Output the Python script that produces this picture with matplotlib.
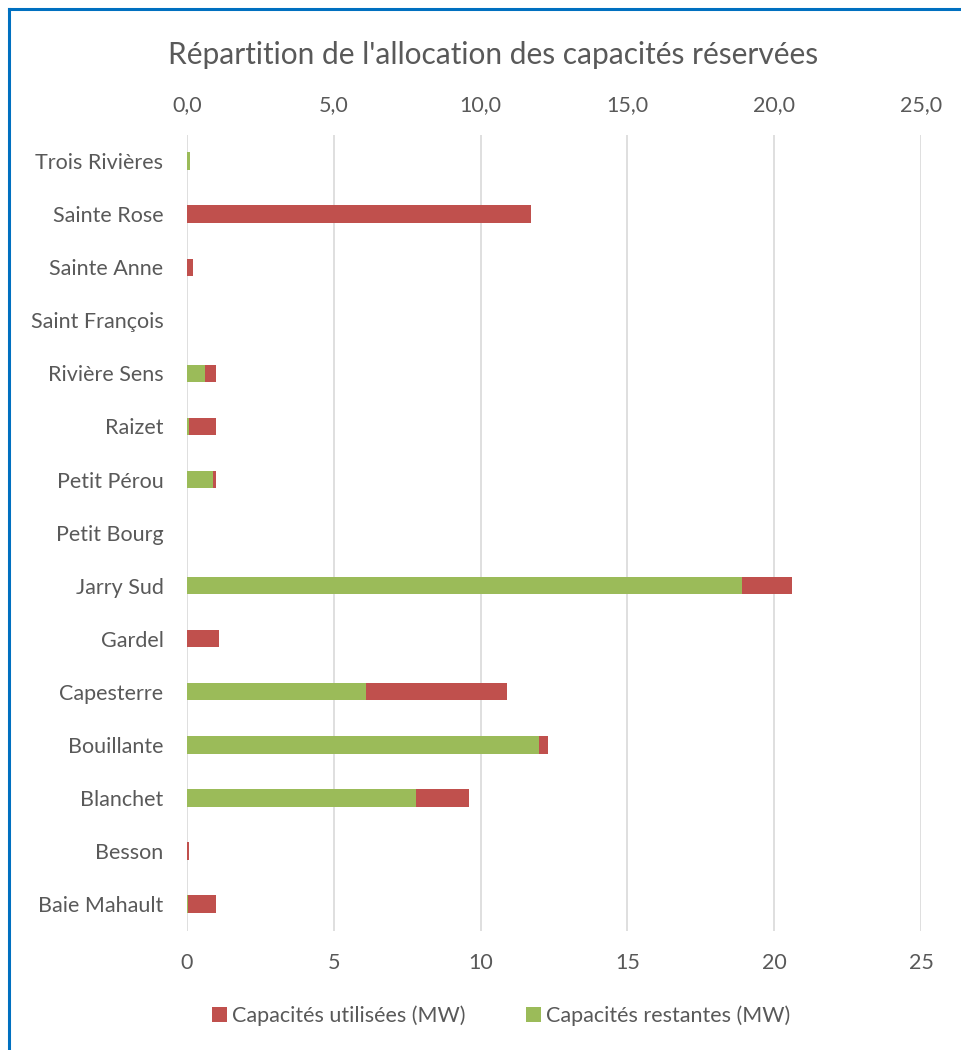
import matplotlib.pyplot as plt
from matplotlib.lines import Line2D
from matplotlib.patches import Patch
from matplotlib.ticker import FuncFormatter

# data, top to bottom as in the chart
postes = ["Trois Rivières", "Sainte Rose", "Sainte Anne", "Saint François",
          "Rivière Sens", "Raizet", "Petit Pérou", "Petit Bourg", "Jarry Sud",
          "Gardel", "Capesterre", "Bouillante", "Blanchet", "Besson",
          "Baie Mahault"]
restantes = [0.09, 0.0, 0.0, 0.0, 0.6, 0.07, 0.9, 0.0, 18.9,
             0.0, 6.1, 12.0, 7.8, 0.0, 0.05]
utilisees = [0.0, 11.7, 0.2, 0.0, 0.4, 0.93, 0.1, 0.0, 1.7,
             1.1, 4.8, 0.3, 1.8, 0.08, 0.95]
ticks = [0, 5, 10, 15, 20, 25]

RED = "#C0504D"
GREEN = "#9BBB59"
TXT = "#595959"
GRID = "#D9D9D9"
FS = 15.5

plt.rcParams['font.family'] = ['Lato', 'DejaVu Sans']

fig = plt.figure(figsize=(9.62, 10.5), dpi=100)
ax = fig.add_axes([0.1944, 0.1138, 0.763, 0.758])

pos = list(range(len(postes)))
ax.barh(pos, restantes, height=0.33, color=GREEN, zorder=3)
ax.barh(pos, utilisees, left=restantes, height=0.33, color=RED, zorder=3)

ax.set_ylim(len(postes) - 0.5, -0.5)
ax.set_xlim(0, 25)
ax.set_yticks(pos)
ax.set_yticklabels(postes, fontsize=FS, color=TXT)
ax.set_xticks(ticks)
ax.tick_params(axis='x', labelsize=FS, colors=TXT, length=0, pad=16)
ax.tick_params(axis='y', length=0, pad=17)
ax.grid(axis='x', color=GRID, linewidth=1.2, zorder=0)
for s in ax.spines.values():
    s.set_visible(False)

top = ax.twiny()
top.set_xlim(ax.get_xlim())
top.set_xticks(ticks)
top.xaxis.set_major_formatter(FuncFormatter(lambda v, p: f"{v:.1f}".replace(".", ",")))
top.tick_params(axis='x', labelsize=FS, colors=TXT, length=0, pad=14)
for s in top.spines.values():
    s.set_visible(False)

fig.text(0.513, 0.948, "Répartition de l'allocation des capacités réservées",
         ha='center', va='center', fontsize=21.5, color=TXT)

handles = [Patch(facecolor=RED, label="Capacités utilisées (MW)"),
           Patch(facecolor=GREEN, label="Capacités restantes (MW)")]
fig.legend(handles=handles, loc='center', bbox_to_anchor=(0.521, 0.033),
           ncol=2, frameon=False, fontsize=FS, labelcolor=TXT,
           handlelength=0.7, handleheight=0.7, handletextpad=0.25, columnspacing=2.8)

# blue frame of the screenshot (left and top edges)
fig.add_artist(Line2D([9 / 962, 9 / 962], [0, 1 - 9 / 1050], color="#0070C0", lw=2.2))
fig.add_artist(Line2D([9 / 962, 1], [1 - 9 / 1050, 1 - 9 / 1050], color="#0070C0", lw=2.2))

fig.savefig("out.png", dpi=100)
